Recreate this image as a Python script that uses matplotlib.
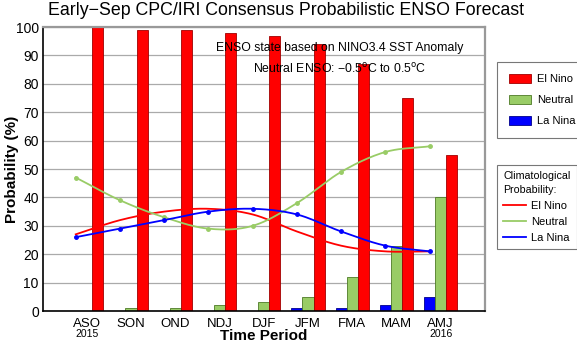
import numpy as np
import matplotlib
matplotlib.use("Agg")
import matplotlib.pyplot as plt
from matplotlib.patches import Patch
from matplotlib.lines import Line2D

plt.rcParams['font.family'] = ['Liberation Sans', 'DejaVu Sans']

seasons = ["ASO", "SON", "OND", "NDJ", "DJF", "JFM", "FMA", "MAM", "AMJ"]
year_labels = {0: "2015", 8: "2016"}
el_nino = [100, 99, 99, 98, 97, 94, 87, 75, 55]
neutral = [0, 1, 1, 2, 3, 5, 12, 23, 40]
la_nina = [0, 0, 0, 0, 0, 1, 1, 2, 5]
clim_el_nino = [27, 32, 35, 36, 34, 28, 23, 21, 21]
clim_neutral = [47, 39, 33, 29, 30, 38, 49, 56, 58]
clim_la_nina = [26, 29, 32, 35, 36, 34, 28, 23, 21]

RED = "#ff0000"
GREEN = "#99cc66"
BLUE = "#0000ff"


def smooth(xs, ys, n=20):
    # Catmull-Rom rendering of the line through the data points
    xs = np.asarray(xs, float)
    ys = np.asarray(ys, float)
    px = np.concatenate([[2 * xs[0] - xs[1]], xs, [2 * xs[-1] - xs[-2]]])
    py = np.concatenate([[2 * ys[0] - ys[1]], ys, [2 * ys[-1] - ys[-2]]])
    ox, oy = [], []
    t = np.linspace(0, 1, n, endpoint=False)
    for i in range(1, len(px) - 2):
        for P, out in ((px, ox), (py, oy)):
            p0, p1, p2, p3 = P[i - 1], P[i], P[i + 1], P[i + 2]
            out.extend(0.5 * ((2 * p1) + (-p0 + p2) * t +
                              (2 * p0 - 5 * p1 + 4 * p2 - p3) * t ** 2 +
                              (-p0 + 3 * p1 - 3 * p2 + p3) * t ** 3))
    ox.append(xs[-1])
    oy.append(ys[-1])
    return np.array(ox), np.array(oy)


fig = plt.figure(figsize=(5.77, 3.42), dpi=100)
ax = fig.add_axes([0.0745, 0.0906, 0.766, 0.8304])

x = np.arange(len(seasons))
w = 0.25
ax.bar(x - w, la_nina, width=w, color=BLUE, edgecolor="#00008b", linewidth=0.6, zorder=2)
ax.bar(x, neutral, width=w, color=GREEN, edgecolor="#4d7a26", linewidth=0.6, zorder=2)
ax.bar(x + w, el_nino, width=w, color=RED, edgecolor="#a00000", linewidth=0.6, zorder=2)

lx = x - w
sx, sy = smooth(lx, clim_el_nino)
ax.plot(sx, sy, color=RED, lw=1.3, zorder=3)
sx, sy = smooth(lx, clim_neutral)
ax.plot(sx, sy, color=GREEN, lw=1.3, zorder=3)
ax.plot(lx, clim_neutral, 'o', color=GREEN, ms=2.5, zorder=4)
sx, sy = smooth(lx, clim_la_nina)
ax.plot(sx, sy, color=BLUE, lw=1.3, zorder=3)
ax.plot(lx, clim_la_nina, 'o', color=BLUE, ms=2.5, zorder=4)

ax.set_xlim(-0.99, 9.0)
ax.set_ylim(0, 100)
ax.set_yticks(np.arange(0, 101, 10))
ax.set_xticks(x)
ax.set_xticklabels(seasons)
ax.tick_params(axis='both', length=0)
ax.tick_params(axis='x', pad=5, labelsize=9.5)
ax.tick_params(axis='y', pad=3, labelsize=10)
for i, yl in year_labels.items():
    ax.text(i, -0.081, yl, transform=ax.get_xaxis_transform(), ha='center',
            va='center', fontsize=7.5)
ax.grid(axis='y', color='#aaaaaa', lw=0.9, zorder=0)
ax.set_axisbelow(True)
for s in ('left', 'bottom'):
    ax.spines[s].set_color('black')
    ax.spines[s].set_linewidth(1.2)
for s in ('top', 'right'):
    ax.spines[s].set_color('#999999')
    ax.spines[s].set_linewidth(1.6)

fig.text(12 / 577, 1 - 169 / 342, "Probability (%)", rotation=90,
         ha='center', va='center', fontsize=11, fontweight='bold')
ax.text(0.5, -0.088, "Time Period", transform=ax.transAxes, ha='center',
        va='center', fontsize=11, fontweight='bold')

fig.text(0.496, 0.968, "Early\u2212Sep CPC/IRI Consensus Probabilistic ENSO Forecast",
         ha='center', va='center', fontsize=12.8)
ax.text(0.672, 0.925, "ENSO state based on NINO3.4 SST Anomaly",
        transform=ax.transAxes, ha='center', va='center', fontsize=8.8)
ax.text(0.672, 0.852, "Neutral ENSO: \u22120.5$^{\\mathrm{o}}$C to 0.5$^{\\mathrm{o}}$C",
        transform=ax.transAxes, ha='center', va='center', fontsize=8.8)

h1 = [Patch(facecolor=RED, edgecolor='#a00000', lw=0.6),
      Patch(facecolor=GREEN, edgecolor='#4d7a26', lw=0.6),
      Patch(facecolor=BLUE, edgecolor='#00008b', lw=0.6)]
leg1 = fig.legend(h1, ["El Nino", "Neutral", "La Nina"], loc='upper left',
                  bbox_to_anchor=(0.862, 0.819), fontsize=8, frameon=True,
                  fancybox=False, edgecolor='#555555', handlelength=2.0,
                  handleheight=0.9, borderpad=1.05, labelspacing=0.95,
                  handletextpad=0.5, borderaxespad=0)
leg1.get_frame().set_linewidth(0.8)

h2 = [Line2D([], [], color=RED, lw=1.3),
      Line2D([], [], color=GREEN, lw=1.3),
      Line2D([], [], color=BLUE, lw=1.3)]
leg2 = fig.legend(h2, ["El Nino", "Neutral", "La Nina"], loc='upper left',
                  bbox_to_anchor=(0.862, 0.5175), fontsize=8, frameon=True,
                  fancybox=False, edgecolor='#555555', handlelength=2.0,
                  borderpad=0.55, labelspacing=0.55, handletextpad=0.5,
                  borderaxespad=0, title="Climatological\nProbability:",
                  title_fontsize=7.7, alignment='left')
leg2.get_frame().set_linewidth(0.8)
leg2.get_title().set_linespacing(1.45)

fig.savefig("out.png", dpi=100)
